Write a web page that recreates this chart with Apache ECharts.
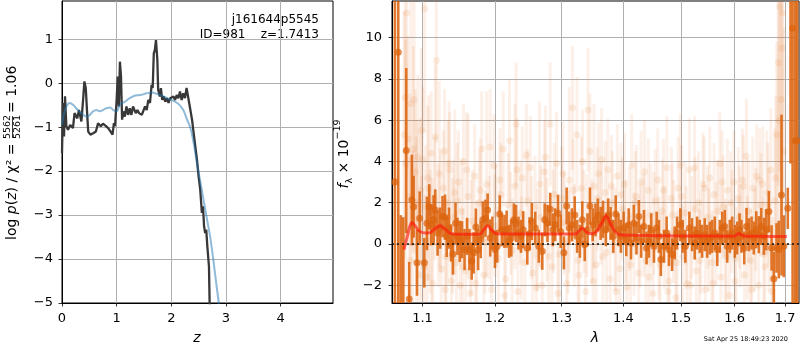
<!DOCTYPE html>
<html><head><meta charset="utf-8">
<script src="https://cdn.jsdelivr.net/npm/echarts@6/dist/echarts.min.js"></script>
<style>html,body{margin:0;padding:0;background:#fff}#c{width:800px;height:350px}</style>
</head><body><div id="c"></div>
<script>
// ---------- left panel: log p(z) ----------
const zTicks = [0, 1, 2, 3, 4];
const logpTicks = [-5, -4, -3, -2, -1, 0, 1];
const pzZ = [0.00,0.018,0.037,0.055,0.08,0.11,0.15,0.20,0.23,0.28,0.31,0.355,0.386,0.41,0.435,0.46,0.48,0.52,0.57,0.62,
  0.66,0.71,0.75,0.80,0.845,0.89,0.925,0.95,0.97,1.00,1.02,1.04,1.06,1.08,1.10,1.12,1.15,1.18,1.21,1.24,
  1.27,1.30,1.35,1.38,1.41,1.46,1.49,1.52,1.55,1.58,1.61,1.64,1.66,1.68,1.70,1.72,1.745,1.76,1.79,1.81,
  1.835,1.86,1.89,1.92,1.95,1.98,2.00,2.04,2.07,2.10,2.13,2.16,2.19,2.22,2.25,2.28,2.31,2.35,2.38,2.41,
  2.44,2.47,2.50,2.53,2.56,2.58,2.60,2.62,2.64,2.66,2.69,2.71];
const pzLog = [-1.59,-0.45,-1.21,-0.30,-0.98,-1.06,-0.95,-1.02,-0.68,-0.80,-0.61,-0.87,-0.38,0.04,-0.11,-0.68,-1.10,-1.17,-1.14,-1.10,
  -0.91,-0.98,-0.92,-0.97,-1.02,-1.10,-1.17,-0.91,-0.98,-0.38,0.15,-0.53,0.49,0.15,-0.83,-0.64,-0.76,-0.53,-0.72,-0.57,
  -0.72,-0.53,-0.68,-0.61,-0.68,-0.72,-0.76,-0.53,-0.61,-0.38,-0.45,-0.04,-0.11,0.68,0.76,0.98,0.53,-0.15,-0.30,-0.11,
  -0.38,-0.30,-0.42,-0.34,-0.45,-0.34,-0.38,-0.30,-0.38,-0.27,-0.34,-0.19,-0.38,-0.23,-0.34,-0.11,-0.11,-0.61,-0.83,-1.14,
  -1.44,-1.74,-2.12,-2.42,-2.95,-2.80,-3.25,-3.41,-3.33,-3.71,-4.17,-5.6];
const templZ = [0.0,0.03,0.08,0.14,0.2,0.29,0.39,0.45,0.51,0.57,0.63,0.69,0.75,0.81,0.88,0.94,1.0,1.06,1.15,1.24,1.34,
  1.43,1.55,1.64,1.73,1.86,1.95,2.04,2.13,2.22,2.28,2.35,2.41,2.47,2.53,2.59,2.65,2.71,2.77,2.83,2.87,2.90];
const templLog = [-0.95,-0.72,-0.53,-0.45,-0.49,-0.61,-0.72,-0.76,-0.72,-0.64,-0.61,-0.64,-0.61,-0.57,-0.55,-0.61,-0.64,-0.49,-0.42,-0.34,-0.28,
  -0.27,-0.23,-0.21,-0.24,-0.30,-0.36,-0.40,-0.47,-0.61,-0.80,-1.02,-1.36,-1.82,-2.23,-2.65,-3.07,-3.48,-4.02,-4.62,-5.0,-5.3];

// ---------- right panel: spectrum ----------
const lamTicks = [1.1, 1.2, 1.3, 1.4, 1.5, 1.6, 1.7];
const fluxTicks = [-2, 0, 2, 4, 6, 8, 10];
const darkLam = [
 1.0642,1.0685,1.0717,1.0750,1.0788,1.0826,1.0861,1.0884,1.0928,1.0963,
 1.1024,1.1059,1.1090,1.1117,1.1148,1.1170,1.1201,1.1236,1.1268,1.1302,
 1.1325,1.1356,1.1383,1.1409,1.1445,1.1472,1.1503,1.1535,1.1570,1.1606,
 1.1638,1.1670,1.1697,1.1728,1.1760,1.1796,1.1827,1.1864,1.1895,1.1932,
 1.1963,1.2000,1.2032,1.2069,1.2100,1.2137,1.2169,1.2206,1.2238,1.2275,
 1.2307,1.2344,1.2381,1.2413,1.2475,1.2510,1.2543,1.2595,1.2648,1.2701,
 1.2738,1.2781,1.2823,1.2862,1.2900,1.2943,1.2986,1.3035,1.3078,1.3117,
 1.3161,1.3206,1.3244,1.3288,1.3326,1.3365,1.3410,1.3449,1.3494,1.3539,
 1.3578,1.3623,1.3662,1.3708,1.3747,1.3787,1.3832,1.3872,1.3918,1.3958,
 1.4004,1.4049,1.4089,1.4129,1.4176,1.4222,1.4262,1.4302,1.4349,1.4395,
 1.4436,1.4476,1.4523,1.4570,1.4610,1.4644,1.4699,1.4746,1.4787,1.4843,
 1.4889,1.4932,1.4991,1.5032,1.5081,1.5154,1.5203,1.5251,1.5295,1.5343,
 1.5388,1.5436,1.5481,1.5530,1.5574,1.5623,1.5669,1.5718,1.5763,1.5812,
 1.5858,1.5908,1.5953,1.6003,1.6049,1.6094,1.6132,1.6185,1.6230,1.6275,
 1.6328,1.6373,1.6421,1.6472,1.6519,1.6571,1.6619,1.6671,1.6725,1.6771,
 1.6825,1.6871,1.6926,1.6973,1.7054,1.7110,1.7153,1.7208,1.7249];
const darkFlux = [
 3.0,9.29,-3.5,-3.2,4.53,-2.67,2.13,1.81,-0.91,1.25,
 -0.91,1.0,1.8,0.93,1.17,1.65,0.53,0.77,1.33,1.30,
 0.37,0.77,0.05,-0.48,1.0,0.37,0.13,0.21,-0.27,0.37,
 -0.27,-0.83,-0.43,0.82,-0.27,0.21,1.17,1.25,1.65,0.29,
 0.53,-0.27,-0.11,1.46,0.69,0.61,0.72,0.13,0.29,1.17,
 1.0,0.53,0.37,0.69,-0.2,0.5,1.09,0.77,-0.11,-0.35,
 1.17,1.0,1.68,0.69,0.93,1.49,0.61,-0.43,1.84,0.77,
 0.93,1.41,0.37,0.13,1.17,-0.03,0.69,1.84,0.93,1.17,
 1.41,1.0,1.2,0.69,1.41,1.0,0.37,1.46,0.69,0.37,
 0.77,0.21,0.93,0.05,1.0,0.29,1.33,0.13,0.85,-0.19,
 0.13,0.69,-0.11,0.77,0.37,-0.75,-0.11,0.53,-0.27,-0.51,
 0.05,0.53,0.93,0.37,-0.11,0.77,0.45,0.05,0.53,0.37,
 0.13,0.45,0.13,0.29,0.37,0.53,-0.27,0.37,0.77,0.85,
 -0.11,0.37,0.53,0.13,0.29,0.69,0.37,-0.19,0.85,0.45,
 0.53,0.29,0.69,0.45,0.85,0.37,0.69,1.57,-0.19,-1.68,
 -0.19,-0.27,2.37,-0.11,1.73,12.0,10.46,5.0,5.0];
const darkErr = [
 20,20,4.9,4.5,4.0,1.8,2.2,1.5,1.6,1.3,
 1.2,1.3,1.1,1.0,1.2,1.0,1.1,1.0,1.0,1.1,
 1.0,1.0,0.9,1.0,1.0,0.9,1.0,0.9,1.0,0.9,
 1.0,0.9,1.0,0.9,1.0,0.9,0.9,0.9,0.8,0.9,
 0.8,0.9,0.8,0.9,0.8,0.8,0.9,0.8,0.9,0.8,
 0.9,0.8,0.8,0.9,0.8,0.8,0.9,0.8,0.8,0.9,
 0.8,0.9,0.8,0.8,0.8,0.9,0.8,0.8,0.9,0.8,
 0.8,0.9,0.8,0.8,0.9,0.8,0.8,0.9,0.8,0.8,
 0.8,0.8,0.9,0.8,0.8,0.8,0.8,0.9,0.8,0.8,
 0.8,0.8,0.8,0.8,0.9,0.8,0.8,0.8,0.8,0.8,
 0.8,0.8,0.8,0.8,0.8,0.8,0.8,0.8,0.8,0.8,
 0.8,0.8,0.8,0.8,0.8,0.8,0.8,0.8,0.8,0.8,
 0.8,0.8,0.8,0.8,0.8,0.8,0.8,0.8,0.8,0.8,
 0.8,0.8,0.8,0.8,0.8,0.8,0.8,0.8,0.9,0.8,
 0.8,0.8,0.9,0.9,0.9,0.9,1.0,1.0,1.1,1.3,
 1.2,1.4,3.9,1.5,1.0,8.1,20,20,20];
const faintLam = [
 1.0760,1.0772,1.0795,1.0810,1.0835,1.0850,1.0870,1.0890,1.0905,1.0920,
 1.0940,1.0955,1.0975,1.0990,1.1005,1.1030,1.1045,1.1060,1.1080,1.1100,
 1.1115,1.1135,1.1160,1.1185,1.1210,1.1225,1.1250,1.1280,1.1295,1.1315,
 1.1340,1.1365,1.1390,1.1420,1.1435,1.1460,1.1485,1.1510,1.1525,1.1555,
 1.1585,1.1620,1.1650,1.1680,1.1710,1.1740,1.1775,1.1810,1.1840,1.1880,
 1.1915,1.1950,1.1985,1.2015,1.2050,1.2085,1.2120,1.2155,1.2190,1.2211,
 1.2250,1.2290,1.2309,1.2335,1.2370,1.2400,1.2440,1.2480,1.2520,1.2555,
 1.2590,1.2625,1.2660,1.2700,1.2735,1.2770,1.2822,1.2850,1.2885,1.2920,
 1.2960,1.3000,1.3040,1.3080,1.3120,1.3169,1.3200,1.3240,1.3275,1.3310,
 1.3350,1.3380,1.3416,1.3449,1.3480,1.3515,1.3550,1.3590,1.3625,1.3660,
 1.3700,1.3740,1.3780,1.3820,1.3860,1.3900,1.3940,1.3980,1.4020,1.4060,
 1.4100,1.4140,1.4180,1.4220,1.4260,1.4300,1.4345,1.4385,1.4425,1.4465,
 1.4505,1.4545,1.4590,1.4630,1.4670,1.4710,1.4750,1.4790,1.4830,1.4870,
 1.4910,1.4950,1.4990,1.5035,1.5075,1.5115,1.5154,1.5195,1.5248,1.5280,
 1.5320,1.5360,1.5405,1.5445,1.5490,1.5530,1.5570,1.5610,1.5650,1.5717,
 1.5740,1.5780,1.5820,1.5860,1.5900,1.5945,1.5985,1.6025,1.6070,1.6110,
 1.6150,1.6190,1.6228,1.6270,1.6310,1.6350,1.6390,1.6430,1.6470,1.6510,
 1.6550,1.6590,1.6630,1.6670,1.6710,1.6750,1.6790,1.6830,1.6860,1.6890,
 1.6920,1.6950,1.6975];
const faintFlux = [
 5.3,7.1,11.2,5.1,2.3,6.8,0.5,7.0,3.5,1.2,
 4.2,-1.5,2.6,0.3,4.1,11.4,1.8,-1.6,2.7,0.6,
 4.4,-1.9,2.2,8.9,0.9,3.4,-1.2,2.7,4.5,-0.6,
 2.0,3.6,-1.8,1.3,2.5,-0.9,3.0,-2.0,1.6,4.0,
 -1.3,2.3,-2.4,1.1,3.3,-0.4,2.0,4.6,-1.5,2.9,
 0.8,-2.2,3.8,1.4,-0.7,2.4,4.6,-1.7,1.9,5.0,
 -0.3,2.8,5.8,-2.3,1.5,3.2,-0.9,2.1,3.7,-1.4,
 1.8,0.2,2.9,-2.0,3.5,0.7,5.8,-1.1,2.4,3.9,
 -0.5,2.2,1.0,-1.9,3.1,6.6,0.4,5.3,-1.5,2.7,
 1.1,-2.3,6.5,4.5,0.6,2.8,-1.0,3.4,1.5,-0.6,
 2.5,3.6,-1.7,2.0,0.2,3.3,-1.2,1.7,2.9,-2.1,
 1.2,3.8,0.0,2.3,-1.4,3.0,0.9,-0.8,2.6,1.4,
 -2.4,2.1,3.1,-1.0,1.6,0.3,3.7,-1.8,2.2,0.6,
 -2.6,2.7,3.8,-0.6,1.5,-1.9,3.6,0.8,3.7,-1.3,
 2.0,0.1,2.9,-2.2,1.3,3.2,-0.9,2.4,0.5,3.9,
 -1.6,1.8,-0.3,2.6,-2.5,1.1,3.0,-0.7,2.2,0.4,
 3.1,-1.5,4.25,1.6,-0.8,2.7,0.2,3.3,-2.0,1.9,
 2.9,-1.1,2.5,0.7,3.6,-1.7,2.1,5.3,8.8,11.5,
 7.0,11.2,4.5];
const faintErr = [
 6,7,8,5,5,6,4,5,4,4,
 4,3.5,3.5,3,3.5,6,3,3,4.5,3,
 3,3,3,4,3,4.5,2.8,2.8,3,2.8,
 4,2.8,2.5,2.8,4,2.5,2.5,2.5,2.5,2.8,
 2.5,4,2.5,2.5,2.5,2.5,2.5,2.8,2.5,4.5,
 2.5,2.5,2.5,2.5,2.5,2.5,2.8,2.5,2.5,3,
 2.5,4,3,2.5,2.5,2.5,2.5,2.5,2.5,2.5,
 2.5,2.5,4,2.5,2.5,2.5,3,2.5,2.5,2.5,
 2.5,2.5,2.5,2.5,4.5,3,2.5,2.8,2.5,2.5,
 2.5,2.5,3,2.8,2.5,4,2.5,2.5,2.5,2.5,
 2.5,2.5,2.5,2.5,2.5,2.5,2.5,2.5,2.5,2.5,
 2.5,2.5,2.5,2.5,2.5,2.5,2.5,2.5,2.5,2.5,
 2.5,2.5,2.5,2.5,2.5,2.5,2.5,2.5,2.5,2.5,
 2.5,2.5,2.5,2.5,2.5,2.5,2.5,2.5,2.5,2.5,
 2.5,2.5,2.5,2.5,2.5,2.5,2.5,2.5,2.5,2.5,
 2.5,2.5,2.5,2.5,2.5,2.5,2.5,2.5,2.5,2.5,
 2.5,2.5,2.8,2.5,2.5,2.5,2.5,2.5,2.5,2.5,
 2.8,2.8,3,3,3,3,3.5,4.5,6,8,
 7,9,6];
// second set of faint (other exposure) points
const faintLamB = [
 1.0780,1.0840,1.0880,1.0930,1.0985,1.1020,1.1070,1.1125,1.1170,1.1240,
 1.1305,1.1355,1.1405,1.1470,1.1540,1.1600,1.1665,1.1725,1.1790,1.1860,
 1.1930,1.2000,1.2070,1.2140,1.2230,1.2320,1.2390,1.2460,1.2540,1.2610,
 1.2680,1.2750,1.2800,1.2870,1.2940,1.3020,1.3100,1.3180,1.3260,1.3330,
 1.3400,1.3500,1.3570,1.3640,1.3720,1.3800,1.3880,1.3960,1.4040,1.4120,
 1.4200,1.4280,1.4360,1.4440,1.4520,1.4610,1.4690,1.4770,1.4850,1.4930,
 1.5010,1.5095,1.5175,1.5260,1.5340,1.5425,1.5510,1.5590,1.5675,1.5760,
 1.5840,1.5925,1.6005,1.6090,1.6170,1.6250,1.6330,1.6410,1.6490,1.6570,
 1.6650,1.6730,1.6810,1.6875,1.6935];
const faintFluxB = [
 3.9,-0.8,4.6,2.0,5.5,-1.1,3.2,0.2,5.2,1.6,
 -2.2,3.9,0.4,2.1,-1.1,3.6,0.3,-1.9,2.6,0.1,
 4.7,0.9,3.1,-2.5,1.0,3.6,-0.2,4.3,0.8,-2.1,
 1.3,4.2,-0.6,1.1,-2.4,3.4,0.1,2.6,-0.8,4.0,
 0.9,-1.8,2.2,4.1,-0.4,2.8,-2.3,2.4,0.6,-1.0,
 2.0,0.4,3.5,-1.6,1.0,-0.2,2.6,-2.3,1.4,-0.9,
 2.3,0.3,-2.0,1.7,-0.8,2.7,0.2,-1.9,1.6,3.0,
 -0.6,2.0,-1.8,1.3,2.8,-0.2,-2.2,1.2,3.1,-0.5,
 1.9,-2.3,3.2,6.0,9.5];
const faintErrB = [
 6,5,5,4,4,3.5,3.5,3,3.5,3,
 3,3,2.8,2.8,2.8,2.8,2.8,2.5,2.5,2.5,
 2.8,2.5,2.5,2.5,2.5,2.5,2.5,2.5,2.5,2.5,
 2.5,2.5,2.5,2.5,2.5,2.5,2.5,2.5,2.5,2.5,
 2.5,2.5,2.5,2.5,2.5,2.5,2.5,2.5,2.5,2.5,
 2.5,2.5,2.5,2.5,2.5,2.5,2.5,2.5,2.5,2.5,
 2.5,2.5,2.5,2.5,2.5,2.5,2.5,2.5,2.5,2.5,
 2.5,2.5,2.5,2.5,2.5,2.5,2.5,2.5,2.5,2.8,
 3,3,4,7,8];
const modelLam = [1.0758,1.0800,1.0830,1.0862,1.0900,1.0950,1.1037,1.1100,1.1170,1.1236,1.1300,1.1360,1.1415,1.1600,1.1780,
  1.1840,1.1897,1.1950,1.2020,1.2500,1.3000,1.3213,1.3270,1.3326,1.3400,1.3490,1.3560,1.3630,1.3715,1.3790,
  1.3860,1.3940,1.4200,1.5000,1.6000,1.6040,1.6078,1.6130,1.6200,1.6500,1.7035];
const modelFlux = [-0.27,0.35,0.80,1.04,0.90,0.65,0.53,0.55,0.75,0.88,0.72,0.55,0.48,0.47,0.47,
  0.70,0.88,0.68,0.50,0.48,0.48,0.48,0.62,0.77,0.55,0.50,0.62,0.95,1.36,0.95,
  0.60,0.45,0.42,0.39,0.38,0.45,0.52,0.44,0.38,0.37,0.36];

const FONT = 'DejaVu Sans';
const minusFmt = v => String(v).replace('-', '\u2212');
const zip = (a, b) => a.map((x, i) => [x, b[i]]);
const allFaintLam = faintLam.concat(faintLamB);
const allFaintFlux = faintFlux.concat(faintFluxB);
const allFaintErr = faintErr.concat(faintErrB);

function errBars(lams, flux, errs, color, width) {
  return {
    type: 'custom', xAxisIndex: 1, yAxisIndex: 1, clip: true, silent: true,
    data: lams.map((l, i) => [l, flux[i] - errs[i], flux[i] + errs[i]]),
    encode: { x: 0, y: [1, 2] },
    renderItem: (params, api) => {
      const a = api.coord([api.value(0), api.value(1)]);
      const b = api.coord([api.value(0), api.value(2)]);
      return { type: 'line', shape: { x1: a[0], y1: a[1], x2: b[0], y2: b[1] },
               style: { stroke: color, lineWidth: width } };
    }
  };
}

function valueAxis(grid, ticks, min, max, fmt, margin) {
  return {
    type: 'value', gridIndex: grid, min: min, max: max,
    axisLine: { show: true, onZero: false, lineStyle: { color: '#000', width: 1 } },
    axisTick: { show: true, length: 3.5, lineStyle: { color: '#000', width: 0.8 }, customValues: ticks },
    axisLabel: { customValues: ticks, formatter: fmt, color: '#000', fontFamily: FONT, fontSize: 13, margin: margin },
    splitLine: { show: true, lineStyle: { color: '#b0b0b0', width: 1 } }
  };
}

const chart = echarts.init(document.getElementById('c'));
const lamAxis = valueAxis(1, lamTicks, 1.0605, 1.7285, v => Number(v).toFixed(1), 9);
lamAxis.type = 'log';
lamAxis.logBase = 10;

chart.setOption({
  animation: false,
  backgroundColor: '#fff',
  grid: [
    { left: 62, top: 1, width: 271, height: 302, show: true, borderColor: '#000', borderWidth: 1, backgroundColor: 'transparent' },
    { left: 392, top: 1, width: 407, height: 302, show: true, borderColor: '#000', borderWidth: 1, backgroundColor: 'transparent' }
  ],
  xAxis: [
    valueAxis(0, zTicks, 0, 4.96, v => minusFmt(v), 9),
    lamAxis
  ],
  yAxis: [
    valueAxis(0, logpTicks, -5, 1.87, v => minusFmt(v), 9),
    valueAxis(1, fluxTicks, -2.86, 11.78, v => minusFmt(v), 10)
  ],
  series: [
    { type: 'line', xAxisIndex: 0, yAxisIndex: 0, data: zip(pzZ, pzLog), showSymbol: false, clip: true,
      lineStyle: { color: '#383838', width: 2.3 }, silent: true },
    { type: 'line', xAxisIndex: 0, yAxisIndex: 0, data: zip(templZ, templLog), showSymbol: false, clip: true, smooth: 0.3,
      lineStyle: { color: 'rgba(31,119,180,0.5)', width: 2 }, silent: true },
    errBars(allFaintLam, allFaintFlux, allFaintErr, 'rgba(230,110,30,0.1)', 3),
    { type: 'scatter', xAxisIndex: 1, yAxisIndex: 1, data: zip(allFaintLam, allFaintFlux), symbolSize: 7, clip: true,
      itemStyle: { color: 'rgba(230,110,30,0.14)' }, silent: true },
    errBars(darkLam, darkFlux, darkErr, 'rgba(220,100,15,0.88)', 2.6),
    { type: 'scatter', xAxisIndex: 1, yAxisIndex: 1, data: zip(darkLam, darkFlux), symbolSize: 7, clip: true,
      itemStyle: { color: 'rgba(220,100,15,0.92)' }, silent: true },
    { type: 'line', xAxisIndex: 1, yAxisIndex: 1, data: zip(modelLam, modelFlux), showSymbol: false, clip: true, smooth: 0.35,
      lineStyle: { color: 'rgba(255,25,10,0.65)', width: 3 }, silent: true,
      markLine: { silent: true, symbol: ['none', 'none'], label: { show: false },
        lineStyle: { color: '#111', type: [2, 3], width: 1.6 }, data: [{ yAxis: 0 }] } }
  ],
  graphic: [
    { type: 'text', x: 319, y: 20, style: { text: 'j161644p5545', fontFamily: FONT, fontSize: 12, fill: '#000', align: 'right', verticalAlign: 'middle' } },
    { type: 'text', x: 319, y: 35, style: { text: 'ID=981    z=1.7413', fontFamily: FONT, fontSize: 12, fill: '#000', align: 'right', verticalAlign: 'middle' } },
    { type: 'text', x: 197, y: 338, style: { text: 'z', fontFamily: FONT, fontSize: 14, fontStyle: 'italic', fill: '#000', align: 'center', verticalAlign: 'middle' } },
    { type: 'text', x: 595, y: 338, style: { text: 'λ', fontFamily: FONT, fontSize: 14, fontStyle: 'italic', fill: '#000', align: 'center', verticalAlign: 'middle' } },
    { type: 'text', x: 788, y: 339, style: { text: 'Sat Apr 25 18:49:23 2020', fontFamily: FONT, fontSize: 6.5, fill: '#000', align: 'right', verticalAlign: 'middle' } },
    { type: 'text', x: 12, y: 240, rotation: Math.PI / 2,
      style: { text: 'log {i|p}({i|z}) / χ² =', fontFamily: FONT, fontSize: 14, fill: '#000', align: 'left', verticalAlign: 'middle',
        rich: { i: { fontFamily: FONT, fontSize: 14, fontStyle: 'italic', fill: '#000' } } } },
    { type: 'text', x: 7.5, y: 127, rotation: Math.PI / 2, style: { text: '5562', fontFamily: FONT, fontSize: 9.5, fill: '#000', align: 'center', verticalAlign: 'middle' } },
    { type: 'text', x: 18, y: 127, rotation: Math.PI / 2, style: { text: '5261', fontFamily: FONT, fontSize: 9.5, fill: '#000', align: 'center', verticalAlign: 'middle' } },
    { type: 'line', shape: { x1: 12.5, y1: 138, x2: 12.5, y2: 116 }, style: { stroke: '#000', lineWidth: 0.8 } },
    { type: 'text', x: 12, y: 113, rotation: Math.PI / 2,
      style: { text: '= 1.06', fontFamily: FONT, fontSize: 14, fill: '#000', align: 'left', verticalAlign: 'middle' } },
    { type: 'text', x: 344, y: 154, rotation: Math.PI / 2,
      style: { text: '{f|f}{s|λ} × 10{p|\u221219}', fontFamily: FONT, fontSize: 14, fill: '#000', align: 'center', verticalAlign: 'middle',
        rich: {
          f: { fontFamily: FONT, fontSize: 14, fontStyle: 'italic', fill: '#000', lineHeight: 22 },
          s: { fontFamily: FONT, fontSize: 9.5, fill: '#000', verticalAlign: 'bottom', lineHeight: 22 },
          p: { fontFamily: FONT, fontSize: 9.5, fill: '#000', verticalAlign: 'top', lineHeight: 22 }
        } } }
  ]
});
</script>
</body></html>
